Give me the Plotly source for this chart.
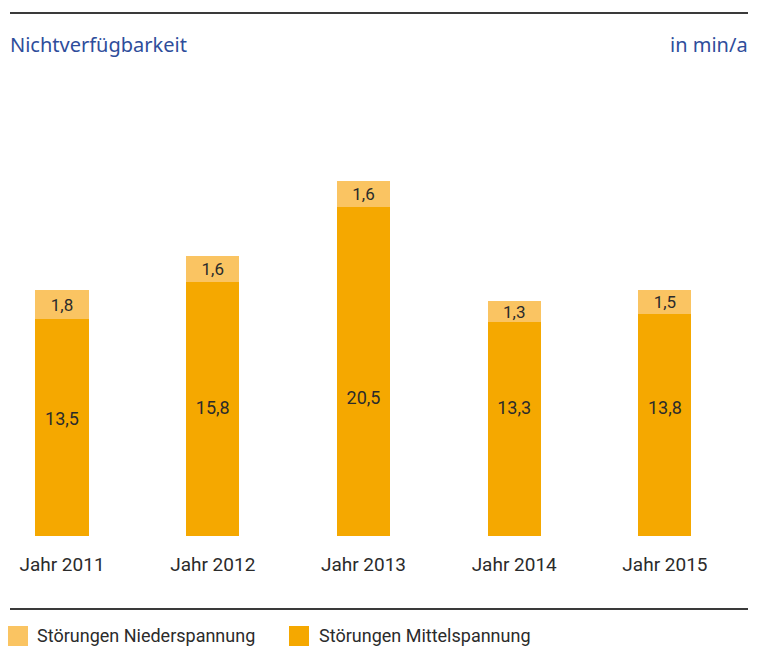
import plotly.graph_objects as go

years = ["Jahr 2011", "Jahr 2012", "Jahr 2013", "Jahr 2014", "Jahr 2015"]
mittel = [13.5, 15.8, 20.5, 13.3, 13.8]
nieder = [1.8, 1.6, 1.6, 1.3, 1.5]

# heights (in axis units) where the Mittelspannung labels sit in the original
label_y = [7.2, 7.9, 8.5, 7.85, 7.85]

C_MITTEL = "#F5A800"
C_NIEDER = "#FAC462"
C_BLUE = "#2E4D9B"
C_TEXT = "#2B2B2B"
FONT = "Roboto, DejaVu Sans, sans-serif"

# the page body adds an 8px margin, so the figure is laid out 8px up/left
OFF = 8
W, H = 764 - OFF, 646 - OFF
L, R, T, B = 10 - OFF, 16, 70 - OFF, 110


def px_x(p):
    return (p - OFF - L) / (W - L - R)


def px_y(p):
    return (H - B - (p - OFF)) / (H - T - B)


x = list(range(len(years)))

fig = go.Figure()
fig.add_bar(
    x=x, y=mittel, name="Störungen Mittelspannung",
    marker=dict(color=C_MITTEL, line=dict(width=0)),
    width=0.352, hoverinfo="y",
)
fig.add_bar(
    x=x, y=nieder, name="Störungen Niederspannung",
    marker=dict(color=C_NIEDER, line=dict(width=0)),
    width=0.352, text=nieder, texttemplate="%{y:.1f}",
    textposition="inside", insidetextanchor="middle", constraintext="none",
    textangle=0, textfont=dict(size=17, color=C_TEXT, family=FONT),
)
fig.add_scatter(
    x=x, y=label_y, mode="text", text=[f"{v:.1f}".replace(".", ",") for v in mittel],
    textposition="middle center", textfont=dict(size=18, color=C_TEXT, family=FONT),
    hoverinfo="skip",
)

fig.update_layout(
    barmode="stack",
    width=W, height=H,
    margin=dict(l=L, r=R, t=T, b=B),
    paper_bgcolor="white", plot_bgcolor="white",
    separators=",.",
    showlegend=False,
    uniformtext=dict(minsize=8, mode="show"),
    font=dict(family=FONT, color=C_TEXT),
)
fig.update_xaxes(
    range=[-0.345, 4.551], tickvals=x, ticktext=years,
    ticks="outside", ticklen=11, tickcolor="rgba(0,0,0,0)",
    tickfont=dict(size=19, color=C_TEXT, family=FONT),
    showgrid=False, zeroline=False, showline=False,
)
fig.update_yaxes(range=[0, 29.0], visible=False, showgrid=False)

# rules
for py in (13, 609):
    fig.add_shape(type="line", xref="paper", yref="paper",
                  x0=px_x(10), x1=px_x(748), y0=px_y(py), y1=px_y(py),
                  line=dict(color="#3a3a3a", width=2))

fig.add_annotation(text="Nichtverfügbarkeit", xref="paper", yref="paper",
                   x=px_x(8), y=px_y(45), xanchor="left", yanchor="middle", showarrow=False,
                   font=dict(size=20, color=C_BLUE, family="Noto Sans, sans-serif"))
fig.add_annotation(text="in min/a", xref="paper", yref="paper",
                   x=px_x(750), y=px_y(45), xanchor="right", yanchor="middle", showarrow=False,
                   font=dict(size=20, color=C_BLUE, family="Noto Sans, sans-serif"))

# legend
legend_items = [("Störungen Niederspannung", C_NIEDER, 8, 35),
                ("Störungen Mittelspannung", C_MITTEL, 289, 317)]
for label, col, sx, tx in legend_items:
    fig.add_shape(type="rect", xref="paper", yref="paper",
                  x0=px_x(sx), x1=px_x(sx + 20), y0=px_y(646), y1=px_y(626),
                  fillcolor=col, line=dict(width=0))
    fig.add_annotation(text=label, xref="paper", yref="paper",
                       x=px_x(tx), y=px_y(635), xanchor="left", yanchor="middle",
                       showarrow=False, font=dict(size=18, color=C_TEXT, family=FONT))

fig.write_html("out.html")
